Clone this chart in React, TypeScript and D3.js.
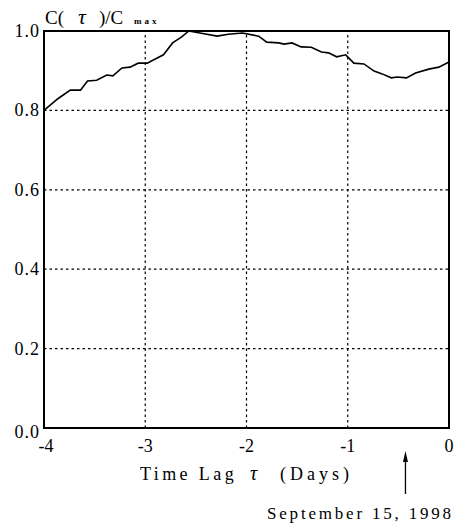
import React, { useEffect, useRef } from "react";
import * as d3 from "d3";

// lag in days, normalised correlation
const tau = [
  -4.0, -3.86, -3.74, -3.64, -3.57, -3.48, -3.38, -3.32, -3.23, -3.15, -3.07,
  -2.98, -2.92, -2.82, -2.73, -2.64, -2.57, -2.46, -2.29, -2.18, -2.04, -1.88,
  -1.8, -1.68, -1.63, -1.55, -1.46, -1.36, -1.26, -1.19, -1.11, -1.02, -0.94,
  -0.84, -0.74, -0.66, -0.57, -0.51, -0.42, -0.33, -0.2, -0.1, 0.0,
];
const corr = [
  0.8, 0.83, 0.851, 0.851, 0.874, 0.876, 0.889, 0.887, 0.907, 0.909, 0.919,
  0.919, 0.927, 0.94, 0.97, 0.985, 1.0, 0.995, 0.987, 0.992, 0.995, 0.987,
  0.972, 0.97, 0.967, 0.97, 0.96, 0.959, 0.947, 0.945, 0.935, 0.94, 0.919,
  0.917, 0.899, 0.892, 0.882, 0.884, 0.882, 0.894, 0.904, 0.909, 0.922,
];
const xTicks = [-4, -3, -2, -1, 0];
const yTicks = [0, 0.2, 0.4, 0.6, 0.8, 1.0];
const eventLag = -0.43; // September 15, 1998 marker

const W = 458;
const H = 525;
const margin = { top: 31, right: 9, bottom: 97, left: 44 };

const App = () => {
  const svgRef = useRef<SVGSVGElement>(null);

  useEffect(() => {
    const svg = d3.select(svgRef.current);
    svg.selectAll("*").remove();

    const x = d3.scaleLinear().domain([-4, 0]).range([margin.left, W - margin.right]);
    const y = d3.scaleLinear().domain([0, 1]).range([H - margin.bottom, margin.top]);
    const font = "'Liberation Serif', 'Times New Roman', serif";

    // grid
    const grid = svg.append("g").attr("stroke", "#000").attr("stroke-width", 1.2)
      .attr("stroke-dasharray", "2.5,3");
    yTicks.filter((d) => d > 0 && d < 1).forEach((d) => {
      grid.append("line")
        .attr("x1", x(-4)).attr("x2", x(0))
        .attr("y1", y(d)).attr("y2", y(d));
    });
    xTicks.filter((d) => d > -4 && d < 0).forEach((d) => {
      grid.append("line")
        .attr("x1", x(d)).attr("x2", x(d))
        .attr("y1", y(0)).attr("y2", y(1));
    });

    // curve
    const pts = tau.map((t, i) => [t, corr[i]] as [number, number]);
    svg.append("path")
      .datum(pts)
      .attr("fill", "none")
      .attr("stroke", "#000")
      .attr("stroke-width", 1.6)
      .attr("d", d3.line<[number, number]>().x((d) => x(d[0])).y((d) => y(d[1])));

    // frame
    svg.append("rect")
      .attr("x", x(-4)).attr("y", y(1))
      .attr("width", x(0) - x(-4)).attr("height", y(0) - y(1))
      .attr("fill", "none").attr("stroke", "#000").attr("stroke-width", 2);

    // y tick labels
    svg.append("g").selectAll("text")
      .data(yTicks)
      .join("text")
      .attr("x", x(-4) - 4)
      .attr("y", (d) => (d === 0 ? y(d) + 10 : y(d) + 6))
      .attr("text-anchor", "end")
      .attr("font-family", font)
      .attr("font-size", 18)
      .attr("letter-spacing", 1)
      .text((d) => d3.format(".1f")(d));

    // x tick labels
    svg.append("g").selectAll("text")
      .data(xTicks)
      .join("text")
      .attr("x", (d) => x(d) + (d === -4 ? 2 : 0))
      .attr("y", y(0) + 24)
      .attr("text-anchor", "middle")
      .attr("font-family", font)
      .attr("font-size", 18)
      .text((d) => String(d));

    // axis title
    const xt = svg.append("text")
      .attr("y", 480)
      .attr("font-family", font)
      .attr("font-size", 18);
    xt.append("tspan").attr("x", 140).attr("letter-spacing", 3.4).text("Time Lag");
    xt.append("tspan").attr("x", 250).attr("font-style", "italic").attr("font-size", 20).text("τ");
    xt.append("tspan").attr("x", 280).attr("letter-spacing", 4).text("(Days)");

    // y title
    const yt = svg.append("text")
      .attr("y", 24)
      .attr("font-family", font)
      .attr("font-size", 19);
    yt.append("tspan").attr("x", 45).text("C(");
    yt.append("tspan").attr("x", 78).attr("font-style", "italic").attr("font-size", 22).text("τ");
    yt.append("tspan").attr("x", 99).text(")/C");
    yt.append("tspan").attr("x", 134).attr("font-size", 9).attr("letter-spacing", 3)
      .attr("font-weight", "bold").text("max");

    // event arrow
    const ax = x(eventLag);
    svg.append("line")
      .attr("x1", ax).attr("x2", ax)
      .attr("y1", 494).attr("y2", 458)
      .attr("stroke", "#000").attr("stroke-width", 1.3);
    svg.append("path")
      .attr("d", `M${ax},451 L${ax - 2.5},462 L${ax + 2.5},462 Z`)
      .attr("fill", "#000");
    svg.append("text")
      .attr("x", 267).attr("y", 519)
      .attr("font-family", font)
      .attr("font-size", 17)
      .attr("letter-spacing", 2.8)
      .text("September 15, 1998");
  }, []);

  return (
    <svg
      ref={svgRef}
      width={W}
      height={H}
      style={{ position: "absolute", left: 0, top: 0, background: "#fff" }}
    />
  );
};

export default App;
